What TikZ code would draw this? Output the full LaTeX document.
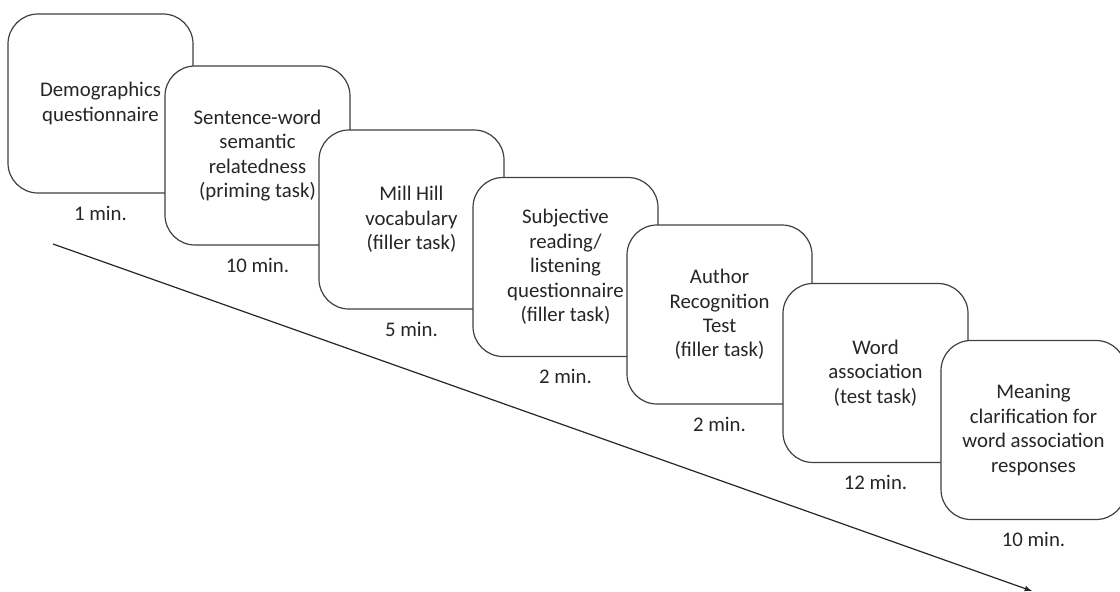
\documentclass[tikz,border=0pt]{standalone}
\usepackage{fontspec}
\setmainfont{Carlito}
\usetikzlibrary{positioning}

\begin{document}
\begin{tikzpicture}[x=0.75pt,y=-0.75pt]
    \tikzstyle{task}=[draw=black!75, line width=0.9pt, fill=white, rounded corners=22.5pt, minimum width=138.75pt, minimum height=134.25pt, align=center, inner sep=0pt, text=black!85, font=\fontsize{15.6}{18.3}\selectfont]
    \tikzstyle{duration}=[inner sep=0pt, text=black!85, font=\fontsize{15.6}{18.3}\selectfont]
    \tikzstyle{timeline}=[draw=black!85, line width=0.9pt, -latex]
    \useasboundingbox (0,0) rectangle (1120,592);
    \clip (0,0) rectangle (1120,592);
    \coordinate (start) at (53,244);
    \coordinate (end) at (1032,591);
    \draw[timeline] (start) -- (end);
    \node[task] (demo) at (100.5,103.5) {Demographics\\questionnaire};
    \node[task] (prime) at (257.5,155.5) {Sentence-word\\semantic\\relatedness\\(priming task)};
    \node[task] (mill) at (411.5,219.5) {Mill Hill\\vocabulary\\(filler task)};
    \node[task] (subj) at (565.5,267) {Subjective\\reading/\\listening\\questionnaire\\(filler task)};
    \node[task] (art) at (719.5,314.5) {Author\\Recognition\\Test\\(filler task)};
    \node[task] (wa) at (875.5,373) {Word\\association\\(test task)};
    \node[task] (mc) at (1033.5,430) {Meaning\\clarification for\\word association\\responses};
    \node[duration, below=9pt of demo] (tdemo) {1 min.};
    \node[duration, below=9pt of prime] (tprime) {10 min.};
    \node[duration, below=9pt of mill] (tmill) {5 min.};
    \node[duration, below=9pt of subj] (tsubj) {2 min.};
    \node[duration, below=9pt of art] (tart) {2 min.};
    \node[duration, below=9pt of wa] (twa) {12 min.};
    \node[duration, below=9pt of mc] (tmc) {10 min.};
\end{tikzpicture}
\end{document}
